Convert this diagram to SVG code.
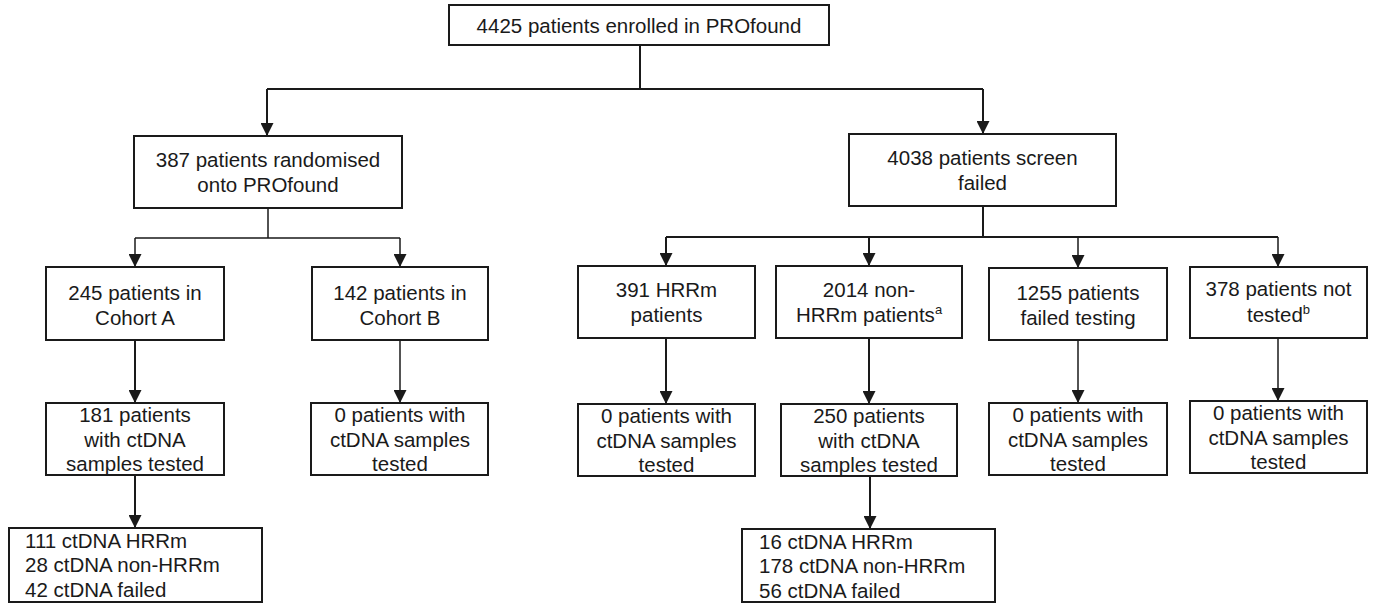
<svg xmlns="http://www.w3.org/2000/svg" width="1376" height="603" viewBox="0 0 1376 603">
<style>
.box{fill:#fff;stroke:#1a1a1a;stroke-width:2}
.t{font-family:"Liberation Sans",Arial,sans-serif;font-size:20.5px;fill:#1a1a1a;text-anchor:middle}
.tl{font-family:"Liberation Sans",Arial,sans-serif;font-size:20.5px;fill:#1a1a1a;text-anchor:start}
.c{fill:none;stroke:#1a1a1a;stroke-width:2}
.cth{fill:none;stroke:#1a1a1a;stroke-width:1.5}
.sup{font-size:13px}
</style>
<defs>
<marker id="ah" viewBox="0 0 12 12" markerUnits="userSpaceOnUse" markerWidth="13" markerHeight="13" refX="12" refY="6" orient="auto">
<path d="M0,0 L12,6 L0,12 z" fill="#1a1a1a"/>
</marker>
</defs>
<rect width="1376" height="603" fill="#fff"/>
<g id="connectors">
<path class="c" d="M640,45 V89 M267,89 H983"/>
<path class="c" d="M267,89 V136" marker-end="url(#ah)"/>
<path class="c" d="M983,89 V134" marker-end="url(#ah)"/>
<path class="cth" d="M268,208 V238 M135,238 H400"/>
<path class="cth" d="M135,238 V267" marker-end="url(#ah)"/>
<path class="cth" d="M400,238 V267" marker-end="url(#ah)"/>
<path class="c" d="M135,340 V403" marker-end="url(#ah)"/>
<path class="cth" d="M400,340 V403" marker-end="url(#ah)"/>
<path class="c" d="M135,475 V528" marker-end="url(#ah)"/>
<path class="c" d="M983,206 V237 M666,237 H1278"/>
<path class="c" d="M666,237 V266" marker-end="url(#ah)"/>
<path class="c" d="M869,237 V266" marker-end="url(#ah)"/>
<path class="cth" d="M1078,237 V268" marker-end="url(#ah)"/>
<path class="cth" d="M1278,237 V267" marker-end="url(#ah)"/>
<path class="c" d="M666,338 V404" marker-end="url(#ah)"/>
<path class="c" d="M869,338 V404" marker-end="url(#ah)"/>
<path class="cth" d="M1078,340 V403" marker-end="url(#ah)"/>
<path class="cth" d="M1278,338 V401" marker-end="url(#ah)"/>
<path class="c" d="M870,476 V529" marker-end="url(#ah)"/>
</g>
<g id="enrolled">
<rect class="box" x="449" y="5" width="380" height="40"/>
<text class="t" x="639" y="33">4425 patients enrolled in PROfound</text>
</g>
<g id="randomised">
<rect class="box" x="134" y="136" width="268" height="72"/>
<text class="t" x="268" y="167">387 patients randomised</text>
<text class="t" x="268" y="192">onto PROfound</text>
</g>
<g id="screenfailed">
<rect class="box" x="849" y="134" width="267" height="72"/>
<text class="t" x="982.5" y="165">4038 patients screen</text>
<text class="t" x="982.5" y="190">failed</text>
</g>
<g id="cohortA">
<rect class="box" x="46" y="267" width="178" height="73"/>
<text class="t" x="135" y="300">245 patients in</text>
<text class="t" x="135" y="325">Cohort A</text>
</g>
<g id="cohortB">
<rect class="box" x="312" y="267" width="176" height="73"/>
<text class="t" x="400" y="300">142 patients in</text>
<text class="t" x="400" y="325">Cohort B</text>
</g>
<g id="cohortA-tested">
<rect class="box" x="46" y="403" width="178" height="72"/>
<text class="t" x="135" y="422">181 patients</text>
<text class="t" x="135" y="447">with ctDNA</text>
<text class="t" x="135" y="471">samples tested</text>
</g>
<g id="cohortB-tested">
<rect class="box" x="311" y="403" width="177" height="72"/>
<text class="t" x="400" y="422">0 patients with</text>
<text class="t" x="400" y="447">ctDNA samples</text>
<text class="t" x="400" y="471">tested</text>
</g>
<g id="cohortA-results">
<rect class="box" x="9" y="528" width="253" height="74"/>
<text class="tl" x="25" y="548">111 ctDNA HRRm</text>
<text class="tl" x="25" y="572">28 ctDNA non-HRRm</text>
<text class="tl" x="25" y="597">42 ctDNA failed</text>
</g>
<g id="hrrm">
<rect class="box" x="578" y="266" width="177" height="72"/>
<text class="t" x="666.5" y="297">391 HRRm</text>
<text class="t" x="666.5" y="322">patients</text>
</g>
<g id="nonhrrm">
<rect class="box" x="776" y="266" width="186" height="72"/>
<text class="t" x="869" y="297">2014 non-</text>
<text class="t" x="869" y="322">HRRm patients<tspan class="sup" dy="-8">a</tspan></text>
</g>
<g id="failedtesting">
<rect class="box" x="989" y="268" width="178" height="72"/>
<text class="t" x="1078" y="300">1255 patients</text>
<text class="t" x="1078" y="325">failed testing</text>
</g>
<g id="nottested">
<rect class="box" x="1190" y="267" width="177" height="71"/>
<text class="t" x="1278.5" y="296">378 patients not</text>
<text class="t" x="1278.5" y="322">tested<tspan class="sup" dy="-8">b</tspan></text>
</g>
<g id="hrrm-tested">
<rect class="box" x="578" y="404" width="177" height="72"/>
<text class="t" x="666.5" y="423">0 patients with</text>
<text class="t" x="666.5" y="448">ctDNA samples</text>
<text class="t" x="666.5" y="472">tested</text>
</g>
<g id="nonhrrm-tested">
<rect class="box" x="781" y="404" width="176" height="72"/>
<text class="t" x="869" y="423">250 patients</text>
<text class="t" x="869" y="448">with ctDNA</text>
<text class="t" x="869" y="472">samples tested</text>
</g>
<g id="failedtesting-tested">
<rect class="box" x="989" y="403" width="178" height="72"/>
<text class="t" x="1078" y="422">0 patients with</text>
<text class="t" x="1078" y="447">ctDNA samples</text>
<text class="t" x="1078" y="471">tested</text>
</g>
<g id="nottested-tested">
<rect class="box" x="1190" y="401" width="177" height="72"/>
<text class="t" x="1278.5" y="420">0 patients with</text>
<text class="t" x="1278.5" y="445">ctDNA samples</text>
<text class="t" x="1278.5" y="469">tested</text>
</g>
<g id="nonhrrm-results">
<rect class="box" x="742" y="529" width="253" height="73"/>
<text class="tl" x="759" y="549">16 ctDNA HRRm</text>
<text class="tl" x="759" y="573">178 ctDNA non-HRRm</text>
<text class="tl" x="759" y="598">56 ctDNA failed</text>
</g>
</svg>
